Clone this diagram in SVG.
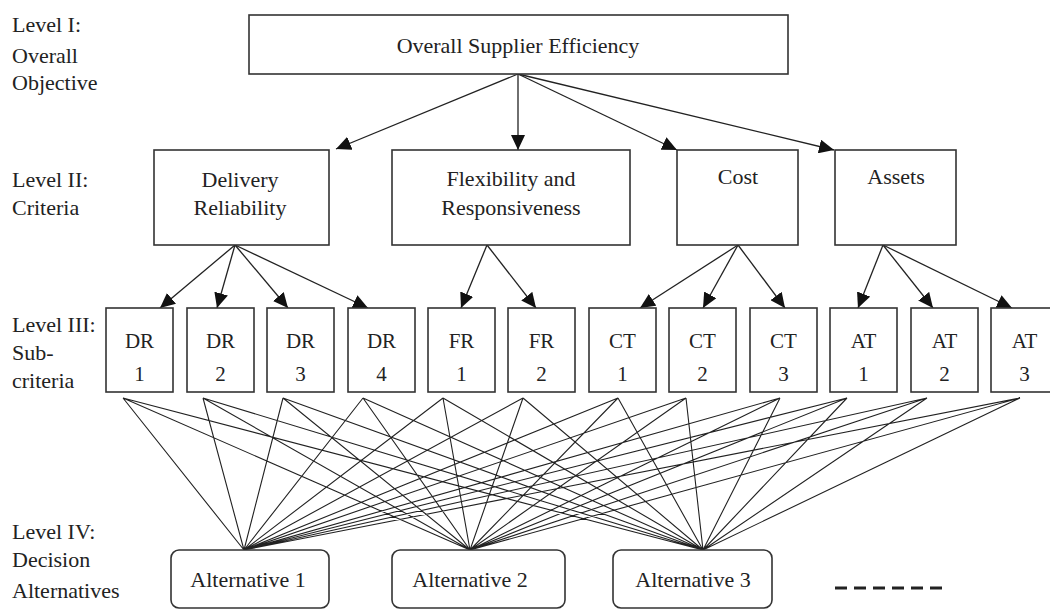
<svg xmlns="http://www.w3.org/2000/svg" width="1050" height="615" viewBox="0 0 1050 615">
<style>
text{font-family:"Liberation Serif","DejaVu Serif",serif;font-size:22px;fill:#222}
.lbl{font-size:22px}
.sm{font-size:21px}
.c{text-anchor:middle}
.box{fill:#fff;stroke:#333;stroke-width:1.6}
.arr{stroke:#222;stroke-width:1.3;fill:none;marker-end:url(#ah)}
.ln{stroke:#222;stroke-width:1.1;fill:none}
</style>
<defs>
<marker id="ah" markerUnits="userSpaceOnUse" markerWidth="16" markerHeight="14" refX="15" refY="7" orient="auto">
<path d="M0,0 L15,7 L0,14 Z" fill="#111"/>
</marker>
</defs>
<rect width="1050" height="615" fill="#fff"/>

<g id="levels">
<text class="lbl" x="12" y="32">Level I:</text>
<text class="lbl" x="12" y="63">Overall</text>
<text class="lbl" x="12" y="90">Objective</text>
<text class="lbl" x="12" y="187">Level II:</text>
<text class="lbl" x="12" y="215">Criteria</text>
<text class="lbl" x="12" y="332">Level III:</text>
<text class="lbl" x="12" y="360">Sub-</text>
<text class="lbl" x="12" y="388">criteria</text>
<text class="lbl" x="12" y="539">Level IV:</text>
<text class="lbl" x="12" y="567">Decision</text>
<text class="lbl" x="12" y="598">Alternatives</text>
</g>

<g id="connectors">
<line class="arr" x1="518" y1="74" x2="336" y2="149"/>
<line class="arr" x1="518" y1="74" x2="518" y2="150"/>
<line class="arr" x1="518" y1="74" x2="677" y2="150"/>
<line class="arr" x1="518" y1="74" x2="834" y2="150"/>

<line class="arr" x1="235" y1="245" x2="160" y2="308"/>
<line class="arr" x1="235" y1="245" x2="217" y2="308"/>
<line class="arr" x1="235" y1="245" x2="288" y2="308"/>
<line class="arr" x1="235" y1="245" x2="368" y2="308"/>
<line class="arr" x1="487" y1="245" x2="461" y2="308"/>
<line class="arr" x1="487" y1="245" x2="536" y2="308"/>
<line class="arr" x1="738" y1="245" x2="640" y2="308"/>
<line class="arr" x1="738" y1="245" x2="703" y2="308"/>
<line class="arr" x1="738" y1="245" x2="785" y2="308"/>
<line class="arr" x1="883" y1="245" x2="858" y2="308"/>
<line class="arr" x1="883" y1="245" x2="933" y2="308"/>
<line class="arr" x1="883" y1="245" x2="1012" y2="308"/>

<path class="ln" d="M123,398L244,550M123,398L470,550M123,398L703,550
M203,398L244,550M203,398L470,550M203,398L703,550
M283,398L244,550M283,398L470,550M283,398L703,550
M363,398L244,550M363,398L470,550M363,398L703,550
M443,398L244,550M443,398L470,550M443,398L703,550
M523,398L244,550M523,398L470,550M523,398L703,550
M618,398L244,550M618,398L470,550M618,398L703,550
M686,398L244,550M686,398L470,550M686,398L703,550
M780,398L244,550M780,398L470,550M780,398L703,550
M847,398L244,550M847,398L470,550M847,398L703,550
M927,398L244,550M927,398L470,550M927,398L703,550
M1020,398L244,550M1020,398L470,550M1020,398L703,550"/>
</g>

<g id="n-goal"><rect class="box" x="249" y="15" width="539" height="59"/><text class="c" x="518" y="53">Overall Supplier Efficiency</text></g>

<g id="n-delivery"><rect class="box" x="154" y="150" width="175" height="95"/><text class="c" x="240" y="187">Delivery</text><text class="c" x="240" y="215">Reliability</text></g>
<g id="n-flex"><rect class="box" x="392" y="150" width="238" height="95"/><text class="c" x="511" y="186">Flexibility and</text><text class="c" x="511" y="215">Responsiveness</text></g>
<g id="n-cost"><rect class="box" x="677" y="150" width="121" height="95"/><text class="c" x="738" y="184">Cost</text></g>
<g id="n-assets"><rect class="box" x="835" y="150" width="121" height="95"/><text class="c" x="896" y="184">Assets</text></g>

<g id="n-dr1"><rect class="box" x="106" y="308" width="67" height="84"/><text class="c sm" x="139.5" y="348">DR</text><text class="c sm" x="139.5" y="381">1</text></g>
<g id="n-dr2"><rect class="box" x="187" y="308" width="67" height="84"/><text class="c sm" x="220.5" y="348">DR</text><text class="c sm" x="220.5" y="381">2</text></g>
<g id="n-dr3"><rect class="box" x="267" y="308" width="67" height="84"/><text class="c sm" x="300.5" y="348">DR</text><text class="c sm" x="300.5" y="381">3</text></g>
<g id="n-dr4"><rect class="box" x="348" y="308" width="67" height="84"/><text class="c sm" x="381.5" y="348">DR</text><text class="c sm" x="381.5" y="381">4</text></g>
<g id="n-fr1"><rect class="box" x="428" y="308" width="67" height="84"/><text class="c sm" x="461.5" y="348">FR</text><text class="c sm" x="461.5" y="381">1</text></g>
<g id="n-fr2"><rect class="box" x="508" y="308" width="67" height="84"/><text class="c sm" x="541.5" y="348">FR</text><text class="c sm" x="541.5" y="381">2</text></g>
<g id="n-ct1"><rect class="box" x="589" y="308" width="67" height="84"/><text class="c sm" x="622.5" y="348">CT</text><text class="c sm" x="622.5" y="381">1</text></g>
<g id="n-ct2"><rect class="box" x="669" y="308" width="67" height="84"/><text class="c sm" x="702.5" y="348">CT</text><text class="c sm" x="702.5" y="381">2</text></g>
<g id="n-ct3"><rect class="box" x="750" y="308" width="67" height="84"/><text class="c sm" x="783.5" y="348">CT</text><text class="c sm" x="783.5" y="381">3</text></g>
<g id="n-at1"><rect class="box" x="830" y="308" width="67" height="84"/><text class="c sm" x="863.5" y="348">AT</text><text class="c sm" x="863.5" y="381">1</text></g>
<g id="n-at2"><rect class="box" x="911" y="308" width="67" height="84"/><text class="c sm" x="944.5" y="348">AT</text><text class="c sm" x="944.5" y="381">2</text></g>
<g id="n-at3"><rect class="box" x="991" y="308" width="67" height="84"/><text class="c sm" x="1024.5" y="348">AT</text><text class="c sm" x="1024.5" y="381">3</text></g>

<g id="n-alt1"><rect class="box" x="171" y="550" width="158" height="58" rx="8"/><text class="c" x="248" y="587">Alternative 1</text></g>
<g id="n-alt2"><rect class="box" x="392" y="550" width="173" height="58" rx="8"/><text class="c" x="470" y="587">Alternative 2</text></g>
<g id="n-alt3"><rect class="box" x="613" y="550" width="159" height="58" rx="8"/><text class="c" x="693" y="587">Alternative 3</text></g>

<g id="n-more"><line x1="835" y1="588" x2="942" y2="588" stroke="#222" stroke-width="3" stroke-dasharray="12,7"/></g>
</svg>
